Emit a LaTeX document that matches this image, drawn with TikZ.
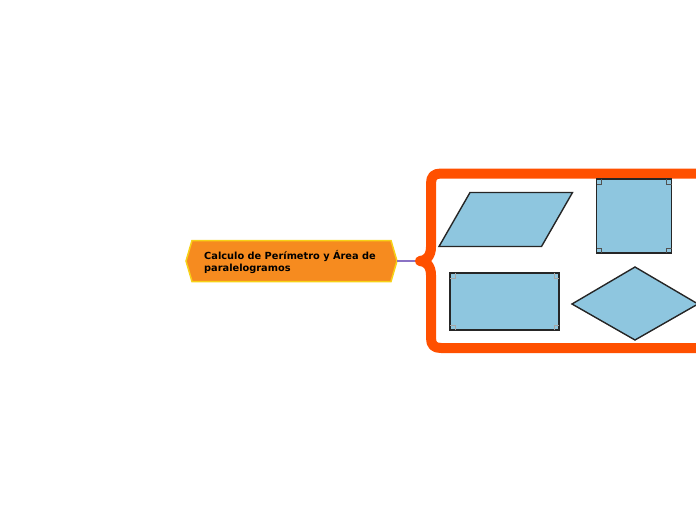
\documentclass[tikz,border=0pt]{standalone}
\usepackage{fontspec}
\setmainfont{DejaVu Sans}
\definecolor{hexfill}{HTML}{F68B1F}
\definecolor{hexline}{HTML}{F7D117}
\definecolor{frame}{HTML}{FF5000}
\definecolor{link}{HTML}{8A72C4}
\definecolor{shapefill}{HTML}{8EC6DF}
\definecolor{shapeline}{HTML}{262626}
\tikzset{
  geo/.style={fill=shapefill,draw=shapeline,line width=1.4pt,line join=miter},
  rmark/.style={draw=shapeline!80,line width=0.5pt},
  rmarklight/.style={draw=gray!70,line width=0.5pt},
}
\begin{document}
\begin{tikzpicture}[x=1pt,y=-1pt]
\useasboundingbox (0,0) rectangle (696,520);
\begin{scope}
\clip (0,0) rectangle (696,520);
% central topic
\draw[fill=hexfill,draw=hexline,line width=1.5pt,line join=miter]
  (186,261) -- (192,240.5) -- (391,240.5) -- (397,261) -- (391,281.5) -- (192,281.5) -- cycle;
\node[anchor=west,align=left,font=\bfseries\fontsize{9.8}{12.5}\selectfont,inner sep=0pt] (main) at (204,262)
  {Calculo de Perímetro y Área de\\paralelogramos};
\coordinate (mainR) at (397,261);
\coordinate (tip) at (420,261);
\draw[link,line width=1.2pt] (mainR) -- (tip);
% frame with brace
\draw[frame,line width=10pt,line join=round,line cap=butt]
  (700,173.5) -- (441,173.5) .. controls (434,173.5) and (431,176.5) .. (431,183.5)
  -- (431,247) .. controls (431,256) and (426,261) .. (tip)
  .. controls (426,261) and (431,266) .. (431,275)
  -- (431,338) .. controls (431,345) and (434,348) .. (441,348) -- (700,348);
% parallelogram
\draw[geo] (439,246.5) -- (470,192.5) -- (572.5,192.5) -- (541.5,246.5) -- cycle;
% square
\draw[geo] (596.5,179) rectangle (671.5,253);
\foreach \cx/\cy/\dx/\dy in {596.5/179/1/1, 671.5/179/-1/1, 596.5/253/1/-1, 671.5/253/-1/-1}
  \draw[rmark] (\cx+5*\dx,\cy) -- (\cx+5*\dx,\cy+5*\dy) -- (\cx,\cy+5*\dy);
% rectangle
\draw[geo] (450,273) rectangle (559,330);
\foreach \cx/\cy/\dx/\dy in {450/273/1/1, 559/273/-1/1, 450/330/1/-1, 559/330/-1/-1}
  \draw[rmarklight] (\cx+5*\dx,\cy) -- (\cx+5*\dx,\cy+5*\dy) -- (\cx,\cy+5*\dy);
% rhombus
\draw[geo] (572,304) -- (635,267) -- (698,304) -- (635,340) -- cycle;
\end{scope}
\end{tikzpicture}
\end{document}
